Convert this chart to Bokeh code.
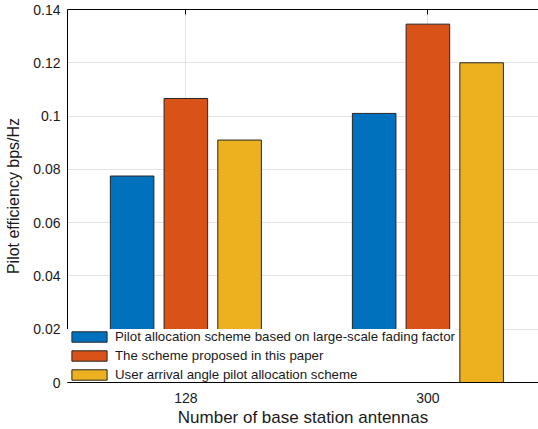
from bokeh.plotting import figure
from bokeh.models import ColumnDataSource, Range1d, FixedTicker, LinearAxis
from bokeh.transform import dodge
from bokeh.embed import file_html
from bokeh.resources import INLINE

# ---- data ----
groups = ["128", "300"]
positions = [1, 2]
large_scale = [0.0775, 0.1010]
proposed = [0.1066, 0.1345]
arrival_angle = [0.0910, 0.1200]
series_names = [
    "Pilot allocation scheme based on large-scale fading factor",
    "The scheme proposed in this paper",
    "User arrival angle pilot allocation scheme",
]
colors = ["#0072BD", "#D95319", "#EDB120"]
y_ticks = [0, 0.02, 0.04, 0.06, 0.08, 0.10, 0.12, 0.14]
y_tick_labels = ["0", "0.02", "0.04", "0.06", "0.08", "0.1", "0.12", "0.14"]

FONT = "Liberation Sans"
TXT = "#1a1a1a"

src = ColumnDataSource(dict(x=positions, a=large_scale, b=proposed, c=arrival_angle))

p = figure(width=538, height=429, output_backend="svg", toolbar_location=None,
           x_range=Range1d(0.511, 2.457), y_range=Range1d(0, 0.14),
           min_border_left=67, min_border_right=0, min_border_top=9, min_border_bottom=46)
p.outline_line_color = None
p.background_fill_color = "white"

offset = 0.222
bw = 0.18
for col, off, color, name in zip(["a", "b", "c"], [-offset, 0, offset], colors, series_names):
    p.vbar(x=dodge("x", off), top=col, width=bw, bottom=0, source=src,
           fill_color=color, line_color="#262626", line_width=1, legend_label=name)

# axes
xa = p.xaxis[0]
xa.ticker = FixedTicker(ticks=positions)
xa.major_label_overrides = {pos: g for pos, g in zip(positions, groups)}
xa.major_tick_in = 0
xa.major_tick_out = 0
xa.minor_tick_in = 0
xa.minor_tick_out = 0
xa.axis_line_color = "black"
xa.axis_line_width = 1
xa.major_label_text_font = FONT
xa.major_label_text_font_size = "14px"
xa.major_label_text_color = TXT
xa.major_label_standoff = 10
xa.axis_label = "Number of base station antennas"
xa.axis_label_text_font = FONT
xa.axis_label_text_font_size = "17px"
xa.axis_label_text_font_style = "normal"
xa.axis_label_text_color = TXT
xa.axis_label_standoff = 2

ya = p.yaxis[0]
ya.ticker = FixedTicker(ticks=y_ticks)
ya.major_label_overrides = {t: l for t, l in zip(y_ticks, y_tick_labels)}
ya.major_tick_in = 0
ya.major_tick_out = 0
ya.minor_tick_in = 0
ya.minor_tick_out = 0
ya.axis_line_color = "black"
ya.major_label_text_font = FONT
ya.major_label_text_font_size = "14px"
ya.major_label_text_color = TXT
ya.major_label_standoff = 7
ya.axis_label = "Pilot efficiency bps/Hz"
ya.axis_label_text_font = FONT
ya.axis_label_text_font_size = "16px"
ya.axis_label_text_font_style = "normal"
ya.axis_label_text_color = TXT
ya.axis_label_standoff = 8

top = LinearAxis(ticker=FixedTicker(ticks=positions))
top.major_label_overrides = {pos: "" for pos in positions}
top.major_tick_in = 5
top.major_tick_out = 0
top.minor_tick_in = 0
top.minor_tick_out = 0
top.major_label_text_font_size = "1px"
top.major_label_standoff = 0
top.axis_line_color = "black"
p.add_layout(top, "above")

# grid
p.xgrid.ticker = FixedTicker(ticks=positions)
p.ygrid.ticker = FixedTicker(ticks=y_ticks)
p.xgrid.grid_line_color = "#e3e3e3"
p.ygrid.grid_line_color = "#e3e3e3"

# legend
lg = p.legend[0]
lg.location = "bottom_left"
lg.margin = 0
lg.padding = 4
lg.spacing = 4
lg.glyph_width = 44
lg.glyph_height = 13
lg.label_height = 14
lg.label_standoff = 4
lg.label_text_font = FONT
lg.label_text_font_size = "13.3px"
lg.label_text_color = TXT
lg.border_line_color = None
lg.background_fill_color = "white"
lg.background_fill_alpha = 1.0

open("out.html", "w").write(file_html(p, INLINE))
